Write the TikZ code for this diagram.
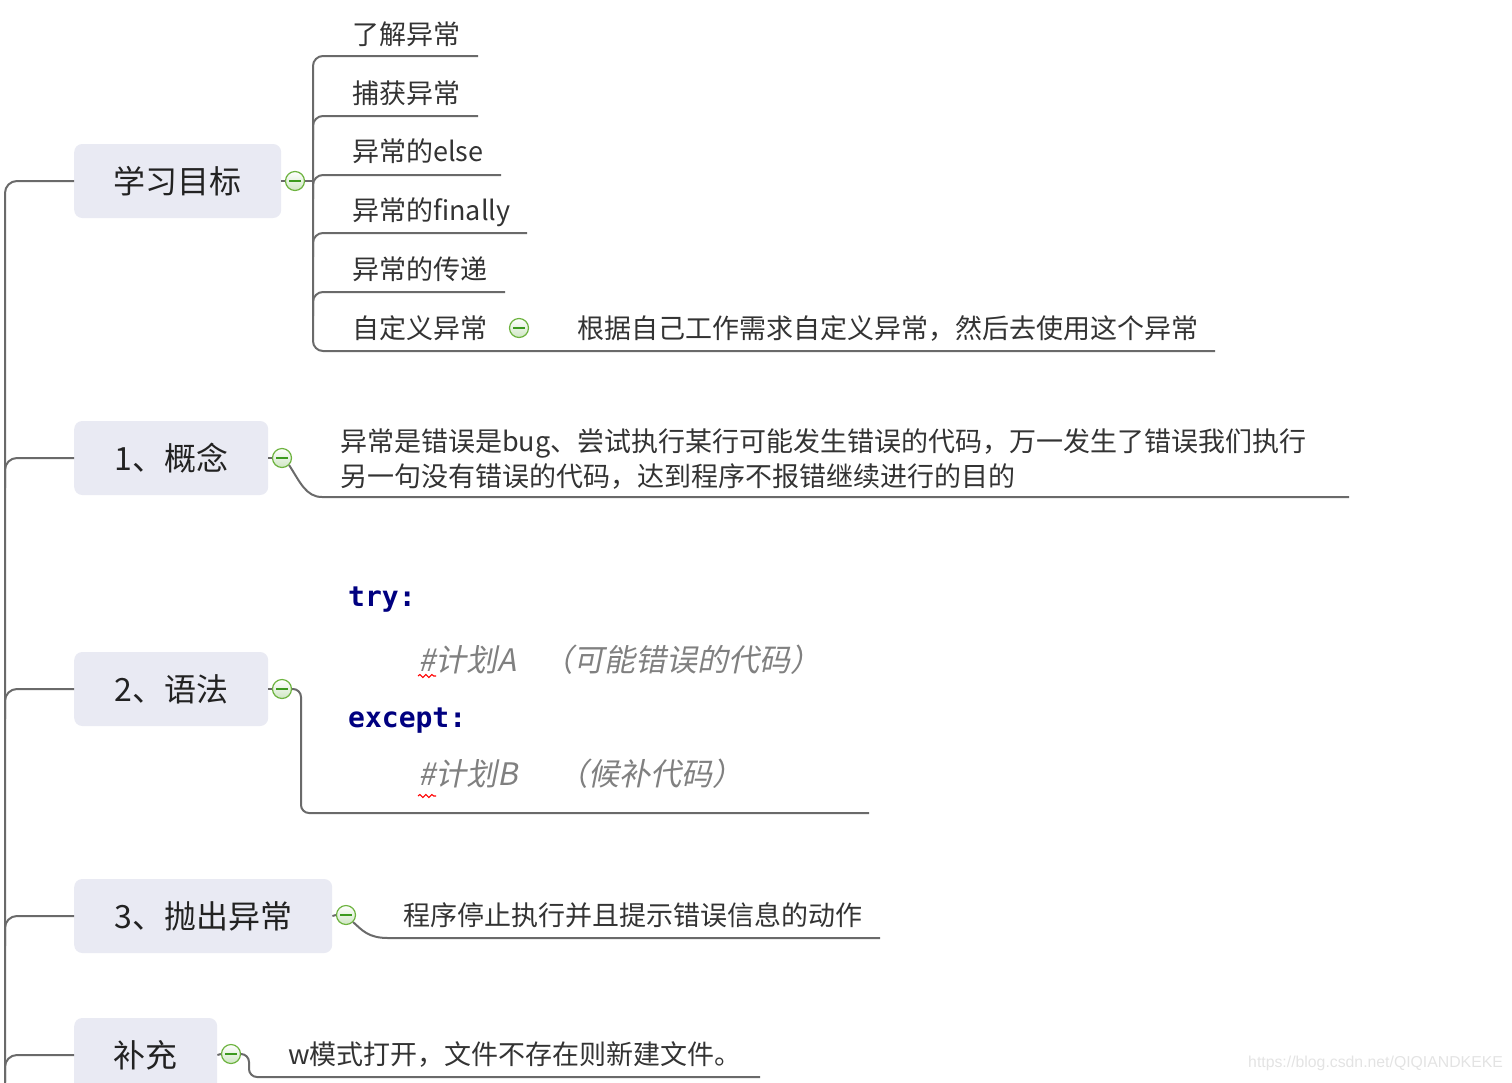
\documentclass[tikz,border=0pt]{standalone}
\usepackage{fontspec}
\setmainfont{Noto Sans CJK SC}
\newfontfamily\cjkit[FakeSlant=0.2]{Noto Sans CJK SC}
\newfontfamily\codefont{DejaVu Sans Mono}
\newfontfamily\wmfont{Liberation Sans}
\usetikzlibrary{calc,decorations.pathmorphing}
\definecolor{boxfill}{HTML}{E9EAF3}
\definecolor{linec}{HTML}{6A6A6A}
\definecolor{txt}{HTML}{333333}
\definecolor{toptxt}{HTML}{222222}
\definecolor{cgreen}{HTML}{6DB33F}
\definecolor{cminus}{HTML}{3C9A1E}
\definecolor{cfill}{HTML}{CFE6C3}
\definecolor{navy}{HTML}{000080}
\definecolor{cmt}{HTML}{808080}
\definecolor{wmc}{HTML}{E3E3E3}
\begin{document}
\begin{tikzpicture}[x=1pt,y=-1pt,
  conn/.style={draw=linec, line width=2pt},
  topic/.style={fill=boxfill, rounded corners=8pt, minimum height=74pt, inner sep=0pt, anchor=west, text=toptxt, text height=26.6pt, text depth=2.2pt, font=\fontsize{32}{38}\selectfont},
  sub/.style={anchor=west, inner sep=0pt, text=txt, text height=22.4pt, text depth=1.9pt, font=\fontsize{27}{32}\selectfont},
  fold/.style={circle, draw=cgreen, line width=1.2pt, minimum size=19pt, inner sep=0pt, top color=white, bottom color=cfill,
    path picture={\draw[cminus, line width=1.1pt] ([xshift=-6pt]path picture bounding box.center) -- ([xshift=6pt]path picture bounding box.center);}},
  code/.style={anchor=west, inner sep=0pt, text=navy, font=\codefont\bfseries\fontsize{28}{33}\selectfont},
  cmtx/.style={anchor=west, inner sep=0pt, text=cmt, text height=25.7pt, text depth=2.2pt, font=\cjkit\fontsize{31}{37}\selectfont},
  squig/.style={draw=red, line width=1.1pt, decorate, decoration={snake, amplitude=1.5pt, segment length=6pt}},
  wm/.style={anchor=west, inner sep=0pt, text=wmc, font=\wmfont\fontsize{15.8}{18}\selectfont}
]
\useasboundingbox (0,0) rectangle (1512,1082);

% topics
\node[topic, minimum width=207pt] (t1) at (74,181) {学习目标};
\node[topic, minimum width=194pt] (t2) at (74,458) {1、概念};
\node[topic, minimum width=194pt] (t3) at (74,689) {2、语法};
\node[topic, minimum width=258pt] (t4) at (74,916) {3、抛出异常};
\node[topic, minimum width=143pt] (t5) at (74,1055) {补充};

% fold circles
\node[fold] (c1) at (295,181) {};
\node[fold] (c2) at (282,458) {};
\node[fold] (c3) at (282,689) {};
\node[fold] (c4) at (346,915) {};
\node[fold] (c5) at (231,1054) {};
\node[fold] (c6) at (519,328) {};

% spine
\coordinate (sp) at (5,0);
\coordinate (spend) at (5,1082);
\draw[conn, rounded corners=12pt] (spend) -- (t1.west -| sp) -- (t1.west);
\foreach \t in {t2,t3,t4,t5}{
  \draw[conn, rounded corners=12pt] ($(\t.west -| sp)+(0,30)$) -- (\t.west -| sp) -- (\t.west);
}
\foreach \t/\c in {t1/c1,t2/c2,t3/c3,t4/c4,t5/c5}{
  \draw[conn] (\t.east) -- (\c.west);
}

% learning goals subtree
\coordinate (v) at (313,0);
\draw[conn] (c1.east) -- (c1 -| v);
\draw[conn, rounded corners=10pt] (478,56) -- (313,56) -- (313,351) -- (1215,351);
\draw[conn, rounded corners=10pt] (313,140) -- (313,116) -- (478,116);
\draw[conn, rounded corners=10pt] (313,199) -- (313,175) -- (501,175);
\draw[conn, rounded corners=10pt] (313,257) -- (313,233) -- (527,233);
\draw[conn, rounded corners=10pt] (313,316) -- (313,292) -- (505,292);

\node[sub] (s1) at (352,34) {了解异常};
\node[sub] (s2) at (352,93) {捕获异常};
\node[sub] (s3) at (352,151) {异常的else};
\node[sub] (s4) at (352,210) {异常的finally};
\node[sub] (s5) at (352,269) {异常的传递};
\node[sub] (s6) at (352,328) {自定义异常};
\node[sub] (s7) at (577,328) {根据自己工作需求自定义异常，然后去使用这个异常};

% concept
\draw[conn] (c2.south east) .. controls (300,482) and (306,497) .. (322,497) -- (1349,497);
\node[sub] (d1) at (340,441) {异常是错误是bug、尝试执行某行可能发生错误的代码，万一发生了错误我们执行};
\node[sub] (d2) at (340,476) {另一句没有错误的代码，达到程序不报错继续进行的目的};

% syntax
\draw[conn, rounded corners=8pt] (c3.east) -- (301,689) -- (301,813) -- (869,813);
\node[code] (k1) at (348,600) {try:};
\node[cmtx] (m1) at (418,660) {\#计划A\hspace{26pt}（可能错误的代码）};
\node[code] (k2) at (348,721) {except:};
\node[cmtx] (m2) at (418,774) {\#计划B\hspace{40pt}（候补代码）};
\draw[squig] ($(m1.west)+(0,16)$) -- ++(18,0);
\draw[squig] ($(m2.west)+(0,22)$) -- ++(18,0);

% raise
\draw[conn] (c4.south east) .. controls (362,930) and (368,938) .. (388,938) -- (880,938);
\node[sub] (e1) at (403,915) {程序停止执行并且提示错误信息的动作};

% supplement
\draw[conn, rounded corners=8pt] (c5.east) -- (249,1054) -- (249,1077) -- (760,1077);
\node[sub] (f1) at (288,1054) {w模式打开，文件不存在则新建文件。};

% watermark
\node[wm] (wmk) at (1248,1063) {https://blog.csdn.net/QIQIANDKEKE};
\end{tikzpicture}
\end{document}
